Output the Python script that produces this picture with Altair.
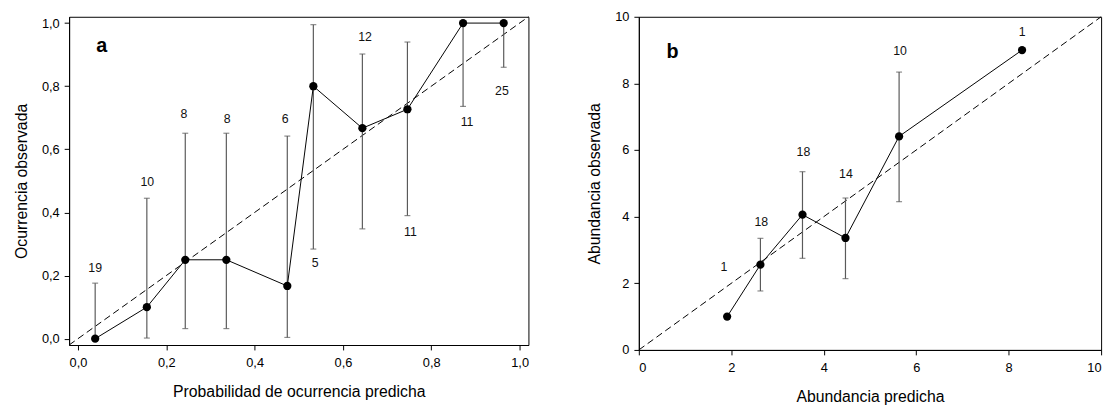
import altair as alt
import pandas as pd

# Panel a: occurrence
a_pred = [0.039, 0.156, 0.243, 0.336, 0.474, 0.533, 0.644, 0.746, 0.872, 0.964]
a_obs = [0.0, 0.1, 0.25, 0.25, 0.167, 0.8, 0.667, 0.727, 1.0, 1.0]
a_lo = [0.0, 0.002, 0.032, 0.032, 0.004, 0.284, 0.348, 0.39, 0.736, 0.86]
a_hi = [0.176, 0.445, 0.651, 0.651, 0.642, 0.995, 0.902, 0.94, 1.0, 1.0]
a_n = ["19", "10", "8", "8", "6", "5", "12", "11", "11", "25"]
a_label_x = [0.039, 0.157, 0.240, 0.338, 0.469, 0.537, 0.650, 0.753, 0.881, 0.960]
a_label_y = [0.225, 0.497, 0.712, 0.696, 0.696, 0.241, 0.956, 0.337, 0.686, 0.785]
a_domain = [-0.02, 1.02]
a_ticks = [0.0, 0.2, 0.4, 0.6, 0.8, 1.0]

# Panel b: abundance
b_pred = [1.91, 2.63, 3.54, 4.47, 5.63, 8.29]
b_obs = [1.0, 2.56, 4.06, 3.36, 6.41, 9.0]
b_lo = [None, 1.77, 2.75, 2.14, 4.45, None]
b_hi = [None, 3.35, 5.35, 4.56, 8.34, None]
b_n = ["1", "18", "18", "14", "10", "1"]
b_label_x = [1.84, 2.65, 3.56, 4.48, 5.65, 8.29]
b_label_y = [2.50, 3.85, 5.94, 5.28, 8.98, 9.55]
b_domain = [0, 10]
b_ticks = [0, 2, 4, 6, 8, 10]

FONT = "Liberation Sans"
BAR = "#5a5a5a"


def panel(pred, obs, lo, hi, n, lx, ly, domain, ticks, letter, letter_xy,
          xtitle, ytitle, width, height, comma):
    df = pd.DataFrame({"pred": pred, "obs": obs, "lo": lo, "hi": hi})
    lab = pd.DataFrame({"lx": lx, "ly": ly, "n": n})
    diag = pd.DataFrame({"v": domain})
    let = pd.DataFrame({"x": [letter_xy[0]], "y": [letter_xy[1]], "t": [letter]})

    lexpr = "replace(format(datum.value, '.1f'), '.', ',')" if comma else "format(datum.value, 'd')"
    xs = alt.Scale(domain=domain, nice=False, zero=False)
    ys = alt.Scale(domain=domain, nice=False, zero=False)
    xax = alt.Axis(values=ticks, labelExpr=lexpr, title=xtitle)
    yax = alt.Axis(values=ticks, labelExpr=lexpr, title=ytitle)

    base = alt.Chart(df)
    dline = alt.Chart(diag).mark_line(color="black", strokeWidth=1, strokeDash=[7, 4]).encode(
        x=alt.X("v:Q", scale=xs, axis=xax), y=alt.Y("v:Q", scale=ys, axis=yax))
    eb = base.transform_filter("isValid(datum.lo)")
    rule = eb.mark_rule(color=BAR, strokeWidth=1.2).encode(
        x="pred:Q", y="lo:Q", y2="hi:Q")
    cap_hi = eb.mark_tick(color=BAR, orient="horizontal", size=6, thickness=1.2).encode(
        x="pred:Q", y="hi:Q")
    cap_lo = eb.mark_tick(color=BAR, orient="horizontal", size=6, thickness=1.2).encode(
        x="pred:Q", y="lo:Q")
    line = base.mark_line(color="black", strokeWidth=1).encode(
        x="pred:Q", y="obs:Q", order="pred:Q")
    pts = base.mark_circle(color="black", size=70, opacity=1).encode(
        x="pred:Q", y="obs:Q")
    txt = alt.Chart(lab).mark_text(font=FONT, fontSize=12.5, color="#111").encode(
        x="lx:Q", y="ly:Q", text="n:N")
    lt = alt.Chart(let).mark_text(font=FONT, fontSize=20, fontWeight="bold", color="black").encode(
        x="x:Q", y="y:Q", text="t:N")
    return alt.layer(dline, rule, cap_hi, cap_lo, line, pts, txt, lt).properties(
        width=width, height=height)


pa = panel(a_pred, a_obs, a_lo, a_hi, a_n, a_label_x, a_label_y, a_domain, a_ticks,
           "a", (0.054, 0.928), "Probabilidad de ocurrencia predicha", "Ocurrencia observada",
           466, 333, True)
pb = panel(b_pred, b_obs, b_lo, b_hi, b_n, b_label_x, b_label_y, b_domain, b_ticks,
           "b", (0.73, 8.95), "Abundancia predicha", "Abundancia observada",
           469, 338, False)

chart = alt.hconcat(pa, pb, spacing=56).properties(
    padding={"left": 5, "top": -1, "right": 5, "bottom": 0}
).configure_view(
    stroke="black", strokeWidth=1
).configure_axis(
    grid=False, domainColor="black", tickColor="black", tickSize=5, tickWidth=1,
    labelFont=FONT, titleFont=FONT, labelFontSize=13, titleFontSize=16,
    titleFontWeight="normal", labelColor="black", titleColor="black",
    labelPadding=5, titlePadding=12
).configure_axisX(
    labelPadding=7, titlePadding=14
)

chart.save("out.html", embed_options={"renderer": "svg", "actions": False})
